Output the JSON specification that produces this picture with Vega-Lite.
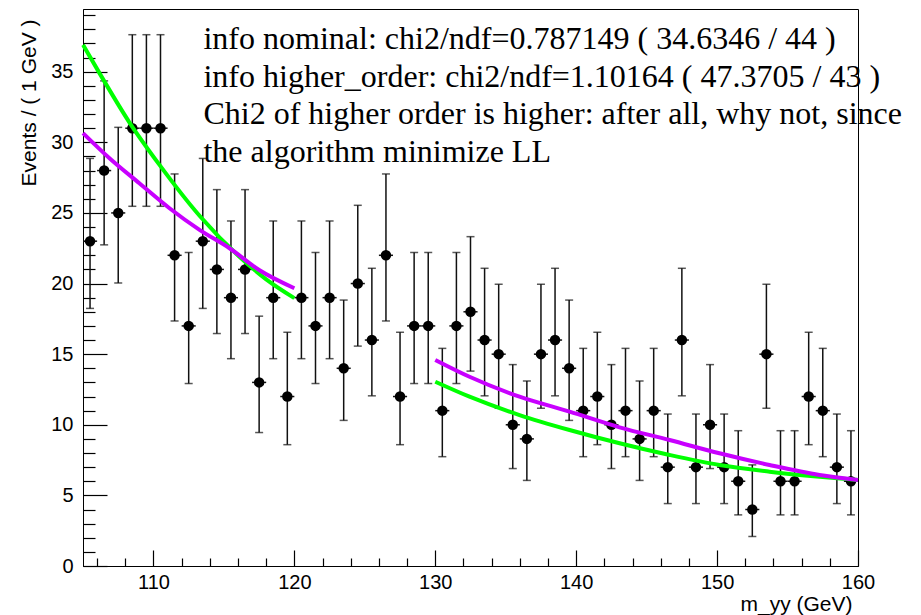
{
  "$schema": "https://vega.github.io/schema/vega-lite/v6.json",
  "width": 775,
  "height": 557,
  "autosize": "none",
  "padding": {"left": 83, "top": 9, "right": 63, "bottom": 49},
  "background": "white",
  "config": {
    "view": {"stroke": "#000", "strokeWidth": 1},
    "axis": {"domainColor": "#000", "tickColor": "#000", "labelColor": "#000", "titleColor": "#000", "labelFont": "Liberation Sans", "titleFont": "Liberation Sans", "labelFontSize": 20, "titleFontSize": 21, "titleFontWeight": "normal", "grid": false, "tickWidth": 1.2, "domainWidth": 1, "labelOverlap": false, "labelFlush": false, "labelBound": false}
  },
  "data": {"values": [
    {"m": 105.5, "x0": 105, "x1": 106, "n": 23, "lo": 18.24, "hi": 28.86},
    {"m": 106.5, "x0": 106, "x1": 107, "n": 28, "lo": 22.74, "hi": 34.35},
    {"m": 107.5, "x0": 107, "x1": 108, "n": 25, "lo": 20.04, "hi": 31.06},
    {"m": 108.5, "x0": 108, "x1": 109, "n": 31, "lo": 25.47, "hi": 37.62},
    {"m": 109.5, "x0": 109, "x1": 110, "n": 31, "lo": 25.47, "hi": 37.62},
    {"m": 110.5, "x0": 110, "x1": 111, "n": 31, "lo": 25.47, "hi": 37.62},
    {"m": 111.5, "x0": 111, "x1": 112, "n": 22, "lo": 17.35, "hi": 27.76},
    {"m": 112.5, "x0": 112, "x1": 113, "n": 17, "lo": 12.92, "hi": 22.20},
    {"m": 113.5, "x0": 113, "x1": 114, "n": 23, "lo": 18.24, "hi": 28.86},
    {"m": 114.5, "x0": 114, "x1": 115, "n": 21, "lo": 16.46, "hi": 26.65},
    {"m": 115.5, "x0": 115, "x1": 116, "n": 19, "lo": 14.68, "hi": 24.43},
    {"m": 116.5, "x0": 116, "x1": 117, "n": 21, "lo": 16.46, "hi": 26.65},
    {"m": 117.5, "x0": 117, "x1": 118, "n": 13, "lo": 9.45, "hi": 17.69},
    {"m": 118.5, "x0": 118, "x1": 119, "n": 19, "lo": 14.68, "hi": 24.43},
    {"m": 119.5, "x0": 119, "x1": 120, "n": 12, "lo": 8.59, "hi": 16.55},
    {"m": 120.5, "x0": 120, "x1": 121, "n": 19, "lo": 14.68, "hi": 24.43},
    {"m": 121.5, "x0": 121, "x1": 122, "n": 17, "lo": 12.92, "hi": 22.20},
    {"m": 122.5, "x0": 122, "x1": 123, "n": 19, "lo": 14.68, "hi": 24.43},
    {"m": 123.5, "x0": 123, "x1": 124, "n": 14, "lo": 10.31, "hi": 18.83},
    {"m": 124.5, "x0": 124, "x1": 125, "n": 20, "lo": 15.57, "hi": 25.54},
    {"m": 125.5, "x0": 125, "x1": 126, "n": 16, "lo": 12.05, "hi": 21.08},
    {"m": 126.5, "x0": 126, "x1": 127, "n": 22, "lo": 17.35, "hi": 27.76},
    {"m": 127.5, "x0": 127, "x1": 128, "n": 12, "lo": 8.59, "hi": 16.55},
    {"m": 128.5, "x0": 128, "x1": 129, "n": 17, "lo": 12.92, "hi": 22.20},
    {"m": 129.5, "x0": 129, "x1": 130, "n": 17, "lo": 12.92, "hi": 22.20},
    {"m": 130.5, "x0": 130, "x1": 131, "n": 11, "lo": 7.74, "hi": 15.41},
    {"m": 131.5, "x0": 131, "x1": 132, "n": 17, "lo": 12.92, "hi": 22.20},
    {"m": 132.5, "x0": 132, "x1": 133, "n": 18, "lo": 13.80, "hi": 23.32},
    {"m": 133.5, "x0": 133, "x1": 134, "n": 16, "lo": 12.05, "hi": 21.08},
    {"m": 134.5, "x0": 134, "x1": 135, "n": 15, "lo": 11.17, "hi": 19.95},
    {"m": 135.5, "x0": 135, "x1": 136, "n": 10, "lo": 6.90, "hi": 14.26},
    {"m": 136.5, "x0": 136, "x1": 137, "n": 9, "lo": 6.06, "hi": 13.10},
    {"m": 137.5, "x0": 137, "x1": 138, "n": 15, "lo": 11.17, "hi": 19.95},
    {"m": 138.5, "x0": 138, "x1": 139, "n": 16, "lo": 12.05, "hi": 21.08},
    {"m": 139.5, "x0": 139, "x1": 140, "n": 14, "lo": 10.31, "hi": 18.83},
    {"m": 140.5, "x0": 140, "x1": 141, "n": 11, "lo": 7.74, "hi": 15.41},
    {"m": 141.5, "x0": 141, "x1": 142, "n": 12, "lo": 8.59, "hi": 16.55},
    {"m": 142.5, "x0": 142, "x1": 143, "n": 10, "lo": 6.90, "hi": 14.26},
    {"m": 143.5, "x0": 143, "x1": 144, "n": 11, "lo": 7.74, "hi": 15.41},
    {"m": 144.5, "x0": 144, "x1": 145, "n": 9, "lo": 6.06, "hi": 13.10},
    {"m": 145.5, "x0": 145, "x1": 146, "n": 11, "lo": 7.74, "hi": 15.41},
    {"m": 146.5, "x0": 146, "x1": 147, "n": 7, "lo": 4.42, "hi": 10.76},
    {"m": 147.5, "x0": 147, "x1": 148, "n": 16, "lo": 12.05, "hi": 21.08},
    {"m": 148.5, "x0": 148, "x1": 149, "n": 7, "lo": 4.42, "hi": 10.76},
    {"m": 149.5, "x0": 149, "x1": 150, "n": 10, "lo": 6.90, "hi": 14.26},
    {"m": 150.5, "x0": 150, "x1": 151, "n": 7, "lo": 4.42, "hi": 10.76},
    {"m": 151.5, "x0": 151, "x1": 152, "n": 6, "lo": 3.62, "hi": 9.58},
    {"m": 152.5, "x0": 152, "x1": 153, "n": 4, "lo": 2.09, "hi": 7.16},
    {"m": 153.5, "x0": 153, "x1": 154, "n": 15, "lo": 11.17, "hi": 19.95},
    {"m": 154.5, "x0": 154, "x1": 155, "n": 6, "lo": 3.62, "hi": 9.58},
    {"m": 155.5, "x0": 155, "x1": 156, "n": 6, "lo": 3.62, "hi": 9.58},
    {"m": 156.5, "x0": 156, "x1": 157, "n": 12, "lo": 8.59, "hi": 16.55},
    {"m": 157.5, "x0": 157, "x1": 158, "n": 11, "lo": 7.74, "hi": 15.41},
    {"m": 158.5, "x0": 158, "x1": 159, "n": 7, "lo": 4.42, "hi": 10.76},
    {"m": 159.5, "x0": 159, "x1": 160, "n": 6, "lo": 3.62, "hi": 9.58}
  ]},
  "layer": [
    {
      "mark": {"type": "rule", "color": "#111", "strokeWidth": 1.5},
      "encoding": {
        "x": {"field": "m", "type": "quantitative", "title": "m_yy (GeV)", "scale": {"domain": [105, 160], "nice": false, "zero": false},
          "axis": {
            "values": [106,108,110,112,114,116,118,120,122,124,126,128,130,132,134,136,138,140,142,144,146,148,150,152,154,156,158,160],
            "tickCount": 200,
            "format": "d",
            "tickSize": {"condition": {"test": "datum.value % 10 === 0", "value": -16}, "value": -8},
            "labelExpr": "datum.value % 10 === 0 ? datum.label : ''",
            "labelPadding": 22,
            "labelOverlap": false,
            "titleAnchor": "end",
            "titleAlign": "right",
            "titleBaseline": "alphabetic",
            "titleX": 769,
            "titleY": 44
          }},
        "y": {"field": "lo", "type": "quantitative", "title": "Events / ( 1 GeV )", "scale": {"domain": [0, 39.44], "nice": false, "zero": true},
          "axis": {
            "values": [0,1,2,3,4,5,6,7,8,9,10,11,12,13,14,15,16,17,18,19,20,21,22,23,24,25,26,27,28,29,30,31,32,33,34,35,36,37,38,39],
            "tickCount": 200,
            "format": "d",
            "tickSize": {"condition": {"test": "datum.value % 5 === 0", "value": -24}, "value": -12},
            "labelExpr": "datum.value % 5 === 0 ? datum.label : ''",
            "labelPadding": 34,
            "labelOverlap": false,
            "titleAngle": 270,
            "titleAlign": "right",
            "titleBaseline": "alphabetic",
            "titleX": -48,
            "titleY": 10
          }},
        "y2": {"field": "hi"}
      }
    },
    {
      "mark": {"type": "tick", "orient": "horizontal", "color": "#111", "size": 8, "thickness": 1.5},
      "encoding": {
        "x": {"field": "m", "type": "quantitative", "title": "m_yy (GeV)"},
        "y": {"field": "lo", "type": "quantitative", "title": "Events / ( 1 GeV )"}
      }
    },
    {
      "mark": {"type": "tick", "orient": "horizontal", "color": "#111", "size": 8, "thickness": 1.5},
      "encoding": {
        "x": {"field": "m", "type": "quantitative", "title": "m_yy (GeV)"},
        "y": {"field": "hi", "type": "quantitative", "title": "Events / ( 1 GeV )"}
      }
    },
    {
      "mark": {"type": "rule", "color": "#111", "strokeWidth": 1.5},
      "encoding": {
        "x": {"field": "x0", "type": "quantitative", "title": "m_yy (GeV)"},
        "x2": {"field": "x1"},
        "y": {"field": "n", "type": "quantitative", "title": "Events / ( 1 GeV )"}
      }
    },
    {
      "mark": {"type": "point", "shape": "circle", "filled": true, "color": "#000", "size": 110, "opacity": 1},
      "encoding": {
        "x": {"field": "m", "type": "quantitative", "title": "m_yy (GeV)"},
        "y": {"field": "n", "type": "quantitative", "title": "Events / ( 1 GeV )"}
      }
    },
    {
      "data": {"values": [
        {"fit": "nominal", "seg": "low", "m": 105, "v": 36.9},
        {"fit": "nominal", "seg": "low", "m": 106.17, "v": 34.9},
        {"fit": "nominal", "seg": "low", "m": 108.3, "v": 31.4},
        {"fit": "nominal", "seg": "low", "m": 110.43, "v": 28.4},
        {"fit": "nominal", "seg": "low", "m": 113.27, "v": 24.8},
        {"fit": "nominal", "seg": "low", "m": 116.1, "v": 21.9},
        {"fit": "nominal", "seg": "low", "m": 118.0, "v": 20.3},
        {"fit": "nominal", "seg": "low", "m": 120, "v": 18.97},
        {"fit": "nominal", "seg": "high", "m": 130, "v": 13.05},
        {"fit": "nominal", "seg": "high", "m": 132.43, "v": 11.99},
        {"fit": "nominal", "seg": "high", "m": 135.98, "v": 10.69},
        {"fit": "nominal", "seg": "high", "m": 139.53, "v": 9.63},
        {"fit": "nominal", "seg": "high", "m": 143.08, "v": 8.69},
        {"fit": "nominal", "seg": "high", "m": 146.63, "v": 7.86},
        {"fit": "nominal", "seg": "high", "m": 150.17, "v": 7.15},
        {"fit": "nominal", "seg": "high", "m": 153.72, "v": 6.68},
        {"fit": "nominal", "seg": "high", "m": 157.27, "v": 6.32},
        {"fit": "nominal", "seg": "high", "m": 160, "v": 6.09},
        {"fit": "higher_order", "seg": "low", "m": 105, "v": 30.65},
        {"fit": "higher_order", "seg": "low", "m": 106.88, "v": 28.87},
        {"fit": "higher_order", "seg": "low", "m": 109, "v": 27.1},
        {"fit": "higher_order", "seg": "low", "m": 111.14, "v": 25.33},
        {"fit": "higher_order", "seg": "low", "m": 113.27, "v": 23.8},
        {"fit": "higher_order", "seg": "low", "m": 115.4, "v": 22.5},
        {"fit": "higher_order", "seg": "low", "m": 117.5, "v": 20.96},
        {"fit": "higher_order", "seg": "low", "m": 120, "v": 19.67},
        {"fit": "higher_order", "seg": "high", "m": 130, "v": 14.59},
        {"fit": "higher_order", "seg": "high", "m": 132.43, "v": 13.4},
        {"fit": "higher_order", "seg": "high", "m": 135.98, "v": 11.99},
        {"fit": "higher_order", "seg": "high", "m": 139.53, "v": 10.93},
        {"fit": "higher_order", "seg": "high", "m": 143.08, "v": 9.82},
        {"fit": "higher_order", "seg": "high", "m": 146.63, "v": 8.92},
        {"fit": "higher_order", "seg": "high", "m": 150.17, "v": 7.98},
        {"fit": "higher_order", "seg": "high", "m": 153.72, "v": 7.15},
        {"fit": "higher_order", "seg": "high", "m": 157.27, "v": 6.44},
        {"fit": "higher_order", "seg": "high", "m": 160, "v": 6.09}
      ]},
      "mark": {"type": "line", "strokeWidth": 4, "interpolate": "monotone"},
      "encoding": {
        "x": {"field": "m", "type": "quantitative", "title": "m_yy (GeV)"},
        "y": {"field": "v", "type": "quantitative", "title": "Events / ( 1 GeV )"},
        "color": {"field": "fit", "type": "nominal", "scale": {"domain": ["higher_order", "nominal"], "range": ["#c800ff", "#00ff00"]}, "legend": null},
        "detail": {"field": "seg", "type": "nominal"},
        "order": {"field": "m", "type": "quantitative"}
      }
    },
    {
      "data": {"values": [{"label": "fit info"}]},
      "mark": {"type": "text", "align": "left", "baseline": "alphabetic", "font": "Liberation Serif", "fontSize": 32, "lineHeight": 37.5, "color": "#000",
        "text": ["info nominal: chi2/ndf=0.787149 ( 34.6346 / 44 )", "info higher_order: chi2/ndf=1.10164 ( 47.3705 / 43 )", "Chi2 of higher order is higher: after all, why not, since", "the algorithm minimize LL"]},
      "encoding": {
        "x": {"datum": 113.55, "type": "quantitative"},
        "y": {"datum": 36.6, "type": "quantitative"}
      }
    }
  ]
}
